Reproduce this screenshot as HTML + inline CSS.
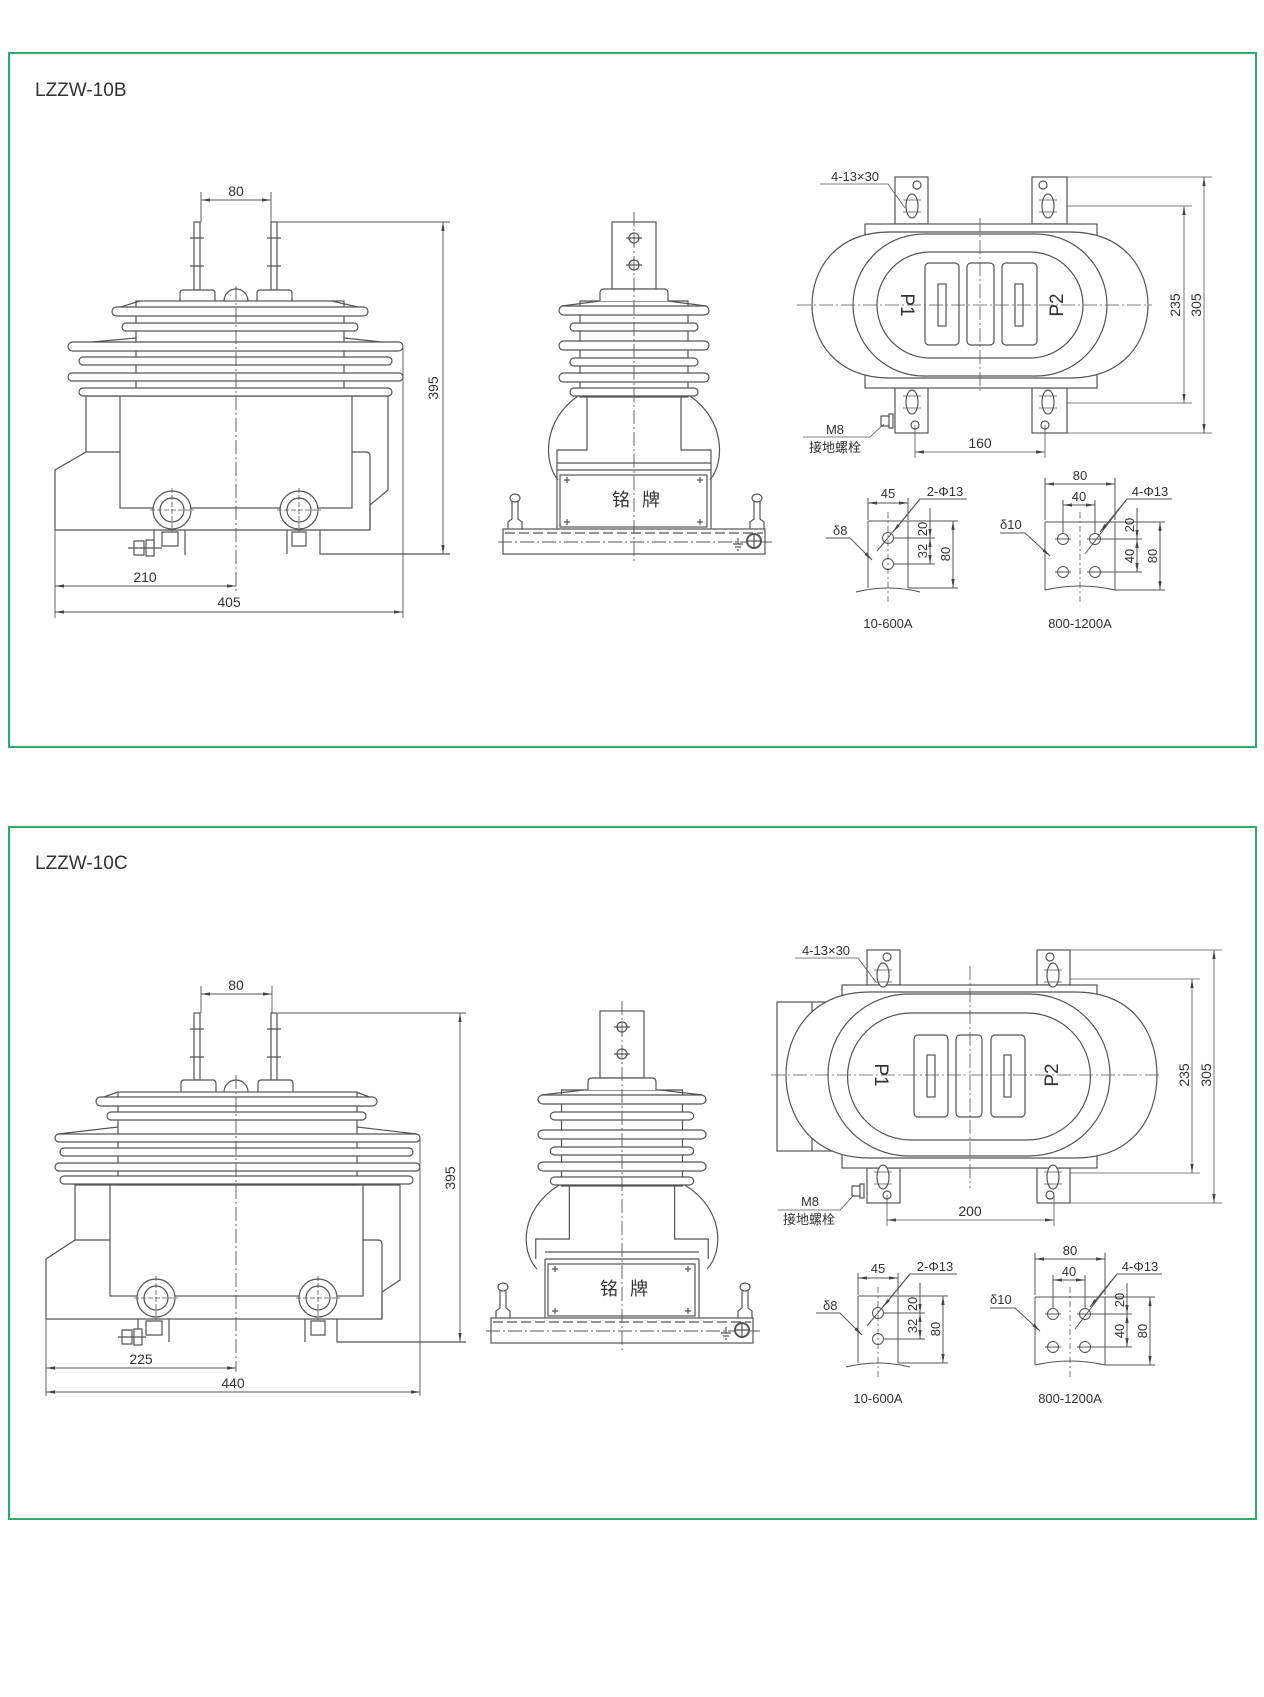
<!DOCTYPE html>
<html><head><meta charset="utf-8"><style>
html,body{margin:0;padding:0;background:#fff;}
svg{display:block}
text{font-family:"Liberation Sans","Noto Sans CJK SC",sans-serif;fill:#333}
</style></head><body>
<svg width="1264" height="1697" viewBox="0 0 1264 1697" xmlns="http://www.w3.org/2000/svg">
<defs>
<marker id="a" viewBox="0 0 10 10" refX="10" refY="5" markerUnits="userSpaceOnUse" markerWidth="9" markerHeight="9" orient="auto-start-reverse"><path d="M0,3.2 L10,5 L0,6.8z" fill="#444"/></marker>

<!-- side view top part (sheds+dome+column) -->
<g id="sideShed" stroke="#555" stroke-width="1.2" fill="#fff">
  <path d="M578 396 C543 420 543 462 558 480" fill="none" vector-effect="non-scaling-stroke"/>
  <path d="M690 396 C725 420 725 462 710 480" fill="none" vector-effect="non-scaling-stroke"/>
  <path d="M587 396 V450 H557 V470 M681 396 V450 H711 V470" fill="none" vector-effect="non-scaling-stroke"/>
  <rect x="580" y="301" width="108" height="96" vector-effect="non-scaling-stroke"/>
  <path d="M600 301 L562 306" fill="none" vector-effect="non-scaling-stroke"/>
  <path d="M668 301 L706 306" fill="none" vector-effect="non-scaling-stroke"/>
  <rect x="559" y="306" width="150" height="9" rx="4.5" vector-effect="non-scaling-stroke"/>
  <rect x="570" y="323" width="128" height="8" rx="4" vector-effect="non-scaling-stroke"/>
  <rect x="559" y="341" width="150" height="9" rx="4.5" vector-effect="non-scaling-stroke"/>
  <rect x="570" y="358" width="128" height="8" rx="4" vector-effect="non-scaling-stroke"/>
  <rect x="559" y="373" width="150" height="9" rx="4.5" vector-effect="non-scaling-stroke"/>
  <rect x="570" y="388" width="128" height="8" rx="4" vector-effect="non-scaling-stroke"/>
</g>
<g id="sideMast" stroke="#555" stroke-width="1.2" fill="#fff">
  <rect x="612" y="222" width="44" height="67"/>
  <path d="M600 301 V293 Q600 289 604 289 H664 Q668 289 668 293 V301"/>
  <circle cx="634" cy="238" r="5"/><circle cx="634" cy="265" r="5"/>
  <path d="M626 238 H642 M626 265 H642" fill="none"/>
</g>
<g id="sideBase" stroke="#555" stroke-width="1.2" fill="none">
  <path d="M557 463 H711 M557 470 H711 M557 470 V529 M711 470 V529"/>
  <rect x="560" y="475" width="147" height="52" fill="#fff"/>
  <path d="M564 480 h6 m-3 -3 v6 M697 480 h6 m-3 -3 v6 M564 522 h6 m-3 -3 v6 M697 522 h6 m-3 -3 v6"/>
  <rect x="503" y="529" width="262" height="25" fill="#fff"/>
  <path d="M505 533 H763" stroke-dasharray="10 4"/>
  <path d="M498 542 H772" stroke-dasharray="14 3 2 3" stroke-width="0.9"/>
  <path d="M508 529 V522 L512 519 V501 M522 529 V522 L518 519 V501"/>
  <ellipse cx="515" cy="498" rx="5" ry="4" fill="#fff"/>
  <path d="M750 529 V522 L754 519 V501 M764 529 V522 L760 519 V501"/>
  <ellipse cx="757" cy="498" rx="5" ry="4" fill="#fff"/>
  <circle cx="754" cy="541" r="7" fill="#fff" stroke-width="2"/>
  <path d="M748 541 H760 M754 535 V547"/>
  <path d="M733 544 H743 M735 547 H741 M737 550 H739 M738 538 V544"/>
  <path d="M634 212 V562" stroke-dasharray="14 3 2 3" stroke-width="0.9"/>
  <text x="621" y="506" font-size="18" stroke="none" text-anchor="middle">铭</text>
  <text x="651" y="506" font-size="18" stroke="none" text-anchor="middle">牌</text>
</g>

<!-- small views -->
<g id="small" stroke="#555" stroke-width="1" fill="none">
  <path d="M868 521 V588 M908 521 V588 M868 521 H908"/>
  <path d="M856 592 Q888 584 920 592" />
  <circle cx="888" cy="538" r="5.5"/><circle cx="888" cy="564" r="5.5"/>
  <path d="M888 512 V602" stroke-dasharray="6 3 2 3" stroke-width="0.8"/>
  <path d="M868 498 V520 M908 498 V520"/>
  <path d="M868 503 H908" marker-start="url(#a)" marker-end="url(#a)"/>
  <path d="M908 521 H958 M893 538 H935 M893 564 H935"/>
  <path d="M930 508 V538" marker-end="url(#a)"/><path d="M930 538 V564" marker-start="url(#a)" marker-end="url(#a)"/>
  <path d="M953 521 V588" marker-start="url(#a)" marker-end="url(#a)"/>
  <path d="M908 588 H958"/>
  <path d="M920 499 H967 M920 499 L877 551" /><path d="M920 499 L893 532" marker-end="url(#a)"/>
  <path d="M826 538 H850 L872 560" marker-end="url(#a)"/>
  <text x="888" y="498" font-size="13" stroke="none" text-anchor="middle">45</text>
  <text x="945" y="496" font-size="13" stroke="none" text-anchor="middle">2-Φ13</text>
  <text x="833" y="535" font-size="13" stroke="none">δ8</text>
  <text transform="translate(927,529) rotate(-90)" font-size="13" stroke="none" text-anchor="middle">20</text>
  <text transform="translate(927,551) rotate(-90)" font-size="13" stroke="none" text-anchor="middle">32</text>
  <text transform="translate(950,554) rotate(-90)" font-size="13" stroke="none" text-anchor="middle">80</text>
  <text x="888" y="628" font-size="13" stroke="none" text-anchor="middle">10-600A</text>

  <path d="M1045 522 V590 M1115 522 V590 M1045 522 H1115"/>
  <path d="M1045 590 Q1080 582 1115 590"/>
  <path d="M1080 512 V604" stroke-dasharray="6 3 2 3" stroke-width="0.8"/>
  <circle cx="1063" cy="539" r="5.5"/><circle cx="1095" cy="539" r="5.5"/>
  <circle cx="1063" cy="572" r="5.5"/><circle cx="1095" cy="572" r="5.5"/>
  <path d="M1055 539 H1071 M1087 539 H1103 M1055 572 H1071 M1087 572 H1103"/>
  <path d="M1045 478 V520 M1115 478 V520 M1063 500 V533 M1095 500 V533"/>
  <path d="M1045 484 H1115" marker-start="url(#a)" marker-end="url(#a)"/>
  <path d="M1063 505 H1095" marker-start="url(#a)" marker-end="url(#a)"/>
  <path d="M1115 522 H1165 M1100 539 H1142 M1100 572 H1142 M1115 590 H1165"/>
  <path d="M1137 508 V539" marker-end="url(#a)"/><path d="M1137 539 V572" marker-start="url(#a)" marker-end="url(#a)"/>
  <path d="M1160 522 V590" marker-start="url(#a)" marker-end="url(#a)"/>
  <path d="M1127 499 H1172 M1127 499 L1085 554"/><path d="M1127 499 L1100 532" marker-end="url(#a)"/>
  <path d="M1000 533 H1025 L1050 556" marker-end="url(#a)"/>
  <text x="1080" y="480" font-size="13" stroke="none" text-anchor="middle">80</text>
  <text x="1079" y="501" font-size="13" stroke="none" text-anchor="middle">40</text>
  <text x="1150" y="496" font-size="13" stroke="none" text-anchor="middle">4-Φ13</text>
  <text x="1000" y="529" font-size="13" stroke="none">δ10</text>
  <text transform="translate(1134,525) rotate(-90)" font-size="13" stroke="none" text-anchor="middle">20</text>
  <text transform="translate(1134,556) rotate(-90)" font-size="13" stroke="none" text-anchor="middle">40</text>
  <text transform="translate(1157,556) rotate(-90)" font-size="13" stroke="none" text-anchor="middle">80</text>
  <text x="1080" y="628" font-size="13" stroke="none" text-anchor="middle">800-1200A</text>
</g>
</defs>

<!-- panels -->
<rect x="9" y="53" width="1247" height="694" fill="none" stroke="#2eaa6a" stroke-width="2"/>
<rect x="9" y="827" width="1247" height="692" fill="none" stroke="#2eaa6a" stroke-width="2"/>
<text x="35" y="96" font-size="19">LZZW-10B</text>
<text x="35" y="869" font-size="19">LZZW-10C</text>

<!-- ============ PANEL 1 LEFT VIEW ============ -->
<g stroke="#555" stroke-width="1.2" fill="#fff">
  <rect x="194" y="222" width="6" height="68"/><rect x="271" y="222" width="6" height="68"/>
  <path d="M190 238 h14 M190 266 h14 M267 238 h14 M267 266 h14" fill="none"/>
  <path d="M180 301 V293 Q180 290 183 290 H212 Q215 290 215 293 V301 M257 301 V293 Q257 290 260 290 H289 Q292 290 292 293 V301"/>
  <path d="M224 301 A12 12 0 0 1 248 301"/>
  <path d="M86 396 V452 L55 470 V530 H370 V505 L388 490 V396 Z"/>
  <path d="M352 452 H366 Q370 452 370 456 V530" fill="none"/>
  <path d="M86 452 H120" fill="none"/>
  <rect x="120" y="396" width="232" height="112"/>
  <rect x="136" y="301" width="208" height="95"/>
  <path d="M140 301 L114 309 M332 301 L366 309" fill="none"/>
  <rect x="112" y="307" width="256" height="9" rx="4.5"/>
  <rect x="122" y="323" width="236" height="8" rx="4"/>
  <path d="M136 338 L70 344 M344 338 L401 344" fill="none"/>
  <rect x="68" y="342" width="335" height="9" rx="4.5"/>
  <rect x="79" y="357" width="313" height="8" rx="4"/>
  <rect x="68" y="373" width="335" height="8" rx="4"/>
  <rect x="79" y="388" width="313" height="8" rx="4"/>
  <circle cx="172" cy="510" r="19"/><circle cx="172" cy="510" r="12"/>
  <circle cx="299" cy="510" r="19"/><circle cx="299" cy="510" r="12"/>
  <path d="M150 510 H194 M172 488 V532 M277 510 H321 M299 488 V532" fill="none" stroke-dasharray="5 2" stroke-width="0.8"/>
  <path d="M154 530 V555 M185 530 V555 M162 532 h16 v14 h-16z M287 530 V554 M320 530 V554 H450 M292 532 h14 v14 h-14z" fill="none"/>
  <path d="M128 548 H162 M134 541 h10 v14 h-10z M146 540 h8 v16 h-8z" />
</g>
<g stroke="#555" stroke-width="0.9" fill="none">
  <path d="M236 286 V592" stroke-dasharray="14 3 2 3"/>
  <path d="M201 192 V222 M271 192 V222 M277 222 H450"/>
  <path d="M201 200 H271" marker-start="url(#a)" marker-end="url(#a)"/>
  <path d="M443 222 V554" marker-start="url(#a)" marker-end="url(#a)"/>
  <path d="M55 530 V618 M403 346 V618"/>
  <path d="M55 586 H236" marker-start="url(#a)" marker-end="url(#a)"/>
  <path d="M55 612 H403" marker-start="url(#a)" marker-end="url(#a)"/>
</g>
<text x="236" y="196" font-size="14" text-anchor="middle">80</text>
<text transform="translate(438,388) rotate(-90)" font-size="14" text-anchor="middle">395</text>
<text x="145" y="582" font-size="14" text-anchor="middle">210</text>
<text x="229" y="607" font-size="14" text-anchor="middle">405</text>

<!-- ============ PANEL 1 SIDE VIEW ============ -->
<use href="#sideShed"/><use href="#sideMast"/><use href="#sideBase"/>

<!-- ============ PANEL 1 TOP VIEW ============ -->
<g stroke="#555" stroke-width="1.2" fill="#fff">
  <rect x="895" y="177" width="33" height="47"/><rect x="1032" y="177" width="35" height="47"/>
  <rect x="895" y="388" width="33" height="45"/><rect x="1032" y="388" width="35" height="45"/>
  <rect x="865" y="224" width="232" height="164"/>
  <path d="M890 232 H1070 C1125 232 1148 270 1148 305 C1148 340 1125 378 1070 378 H890 C835 378 812 340 812 305 C812 270 835 232 890 232 Z"/>
  <path d="M924 234 H1036 A71 71 0 0 1 1036 376 H924 A71 71 0 0 1 924 234 Z"/>
  <path d="M930 252 H1030 A53 53 0 0 1 1030 358 H930 A53 53 0 0 1 930 252 Z"/>
  <rect x="925" y="263" width="34" height="82" rx="4"/>
  <rect x="967" y="263" width="27" height="82" rx="4"/>
  <rect x="1002" y="263" width="35" height="82" rx="4"/>
  <rect x="938" y="284" width="8" height="42"/><rect x="1015" y="284" width="8" height="42"/>
  <ellipse cx="912" cy="206" rx="6" ry="12"/><circle cx="917" cy="185" r="4"/>
  <ellipse cx="1048" cy="206" rx="6" ry="12"/><circle cx="1043" cy="185" r="4"/>
  <ellipse cx="912" cy="402" rx="6" ry="12"/><circle cx="915" cy="425" r="4"/>
  <ellipse cx="1048" cy="402" rx="6" ry="12"/><circle cx="1045" cy="425" r="4"/>
  <path d="M881 416 h8 v10 h-8z M889 414 h4 v14 h-4z" />
</g>
<g stroke="#555" stroke-width="0.8" fill="none">
  <path d="M903 200 h18 M903 212 h18 M1039 200 h18 M1039 212 h18 M903 396 h18 M903 408 h18 M1039 396 h18 M1039 408 h18"/>
  <path d="M797 305 H1152 M980 218 V392" stroke-dasharray="14 3 2 3"/>
  <path d="M1067 177 H1212 M1067 433 H1212 M1067 206 H1192 M1067 403 H1192"/>
  <path d="M1204 177 V433" marker-start="url(#a)" marker-end="url(#a)"/>
  <path d="M1184 206 V403" marker-start="url(#a)" marker-end="url(#a)"/>
  <path d="M915 425 V458 M1045 425 V458"/>
  <path d="M915 452 H1045" marker-start="url(#a)" marker-end="url(#a)"/>
  <path d="M820 184 H888 L905 208"/>
  <path d="M803 437 H870 L884 424"/>
</g>
<text transform="translate(906,305) rotate(90)" font-size="19" text-anchor="middle" dominant-baseline="middle">P1</text>
<text transform="translate(1058,305) rotate(-90)" font-size="19" text-anchor="middle" dominant-baseline="middle">P2</text>
<text transform="translate(1180,305) rotate(-90)" font-size="14" text-anchor="middle">235</text>
<text transform="translate(1201,305) rotate(-90)" font-size="14" text-anchor="middle">305</text>
<text x="855" y="181" font-size="13" text-anchor="middle">4-13×30</text>
<text x="835" y="434" font-size="13" text-anchor="middle">M8</text>
<text x="835" y="452" font-size="13" text-anchor="middle">接地螺栓</text>
<text x="980" y="448" font-size="14" text-anchor="middle">160</text>

<use href="#small"/>

<!-- ============ PANEL 2 LEFT VIEW ============ -->
<g stroke="#555" stroke-width="1.2" fill="#fff">
  <rect x="194" y="1013" width="6" height="67"/><rect x="271" y="1013" width="6" height="67"/>
  <path d="M190 1029 h14 M190 1057 h14 M267 1029 h14 M267 1057 h14" fill="none"/>
  <path d="M181 1092 V1084 Q181 1080 184 1080 H213 Q216 1080 216 1084 V1092 M258 1092 V1084 Q258 1080 261 1080 H290 Q293 1080 293 1084 V1092"/>
  <path d="M224 1092 A12 12 0 0 1 248 1092"/>
  <path d="M75 1185 V1240 L46 1259 V1319 H382 V1292 L400 1280 V1185 Z"/>
  <path d="M363 1240 H378 Q382 1240 382 1244 V1319" fill="none"/>
  <path d="M75 1240 H110" fill="none"/>
  <rect x="110" y="1185" width="253" height="111"/>
  <rect x="118" y="1092" width="239" height="93"/>
  <path d="M118 1092 L98 1099 M356 1092 L375 1099" fill="none"/>
  <rect x="96" y="1097" width="281" height="9" rx="4.5"/>
  <rect x="107" y="1112" width="259" height="8" rx="4"/>
  <path d="M118 1127 L58 1134 M357 1127 L417 1134" fill="none"/>
  <rect x="55" y="1134" width="365" height="8" rx="4"/>
  <rect x="60" y="1148" width="353" height="8" rx="4"/>
  <rect x="55" y="1163" width="365" height="8" rx="4"/>
  <rect x="60" y="1176" width="353" height="8" rx="4"/>
  <circle cx="156" cy="1298" r="19"/><circle cx="156" cy="1298" r="12"/>
  <circle cx="318" cy="1298" r="19"/><circle cx="318" cy="1298" r="12"/>
  <path d="M134 1298 H178 M156 1276 V1320 M296 1298 H340 M318 1276 V1320" fill="none" stroke-dasharray="5 2" stroke-width="0.8"/>
  <path d="M138 1319 V1342 M169 1319 V1342 M146 1321 h16 v14 h-16z M305 1319 V1342 M337 1319 V1342 H466 M311 1321 h14 v14 h-14z" fill="none"/>
  <path d="M118 1337 H146 M122 1330 h10 v14 h-10z M134 1329 h8 v16 h-8z"/>
</g>
<g stroke="#555" stroke-width="0.9" fill="none">
  <path d="M236 1075 V1372" stroke-dasharray="14 3 2 3"/>
  <path d="M201 986 V1013 M272 986 V1013 M278 1013 H466"/>
  <path d="M201 994 H272" marker-start="url(#a)" marker-end="url(#a)"/>
  <path d="M460 1013 V1342" marker-start="url(#a)" marker-end="url(#a)"/>
  <path d="M46 1319 V1396 M420 1138 V1396"/>
  <path d="M46 1368 H236" marker-start="url(#a)" marker-end="url(#a)"/>
  <path d="M46 1392 H420" marker-start="url(#a)" marker-end="url(#a)"/>
</g>
<text x="236" y="990" font-size="14" text-anchor="middle">80</text>
<text transform="translate(455,1178) rotate(-90)" font-size="14" text-anchor="middle">395</text>
<text x="141" y="1364" font-size="14" text-anchor="middle">225</text>
<text x="233" y="1388" font-size="14" text-anchor="middle">440</text>

<!-- ============ PANEL 2 SIDE VIEW ============ -->
<g transform="translate(-12,789)">
  <g transform="translate(634,0) scale(1.12,1) translate(-634,0)"><use href="#sideShed"/></g>
  <use href="#sideMast"/>
  <use href="#sideBase"/>
</g>

<!-- ============ PANEL 2 TOP VIEW ============ -->
<g stroke="#555" stroke-width="1.2" fill="#fff">
  <rect x="777" y="1002" width="70" height="149"/>
  <path d="M812 1002 V1151" fill="none"/>
  <rect x="867" y="950" width="33" height="35"/><rect x="1037" y="950" width="33" height="35"/>
  <rect x="867" y="1168" width="33" height="35"/><rect x="1037" y="1168" width="33" height="35"/>
  <rect x="842" y="985" width="255" height="183"/>
  <path d="M870 992 H1075 C1135 992 1157 1035 1157 1075 C1157 1115 1135 1158 1075 1158 H870 C810 1158 786 1115 786 1075 C786 1035 810 992 870 992 Z"/>
  <path d="M909 994 H1029 A81 81 0 0 1 1029 1156 H909 A81 81 0 0 1 909 994 Z"/>
  <path d="M911 1013 H1027 A63.5 63.5 0 0 1 1027 1140 H911 A63.5 63.5 0 0 1 911 1013 Z"/>
  <rect x="914" y="1035" width="34" height="82" rx="4"/>
  <rect x="956" y="1035" width="26" height="82" rx="4"/>
  <rect x="991" y="1035" width="34" height="82" rx="4"/>
  <rect x="927" y="1055" width="8" height="42"/><rect x="1004" y="1055" width="7" height="42"/>
  <ellipse cx="883" cy="975" rx="6" ry="12"/><circle cx="887" cy="957" r="4"/>
  <ellipse cx="1053" cy="975" rx="6" ry="12"/><circle cx="1050" cy="957" r="4"/>
  <ellipse cx="883" cy="1177" rx="6" ry="12"/><circle cx="887" cy="1195" r="4"/>
  <ellipse cx="1053" cy="1177" rx="6" ry="12"/><circle cx="1050" cy="1195" r="4"/>
  <path d="M852 1186 h8 v10 h-8z M860 1184 h4 v14 h-4z"/>
</g>
<g stroke="#555" stroke-width="0.8" fill="none">
  <path d="M874 970 h18 M874 982 h18 M1044 970 h18 M1044 982 h18 M874 1172 h18 M874 1184 h18 M1044 1172 h18 M1044 1184 h18"/>
  <path d="M771 1075 H1162 M970 966 V1188" stroke-dasharray="14 3 2 3"/>
  <path d="M1070 950 H1222 M1070 1203 H1222 M1070 979 H1200 M1070 1173 H1200"/>
  <path d="M1214 950 V1203" marker-start="url(#a)" marker-end="url(#a)"/>
  <path d="M1192 979 V1173" marker-start="url(#a)" marker-end="url(#a)"/>
  <path d="M887 1195 V1226 M1054 1195 V1226"/>
  <path d="M887 1220 H1054" marker-start="url(#a)" marker-end="url(#a)"/>
  <path d="M795 958 H858 L876 982"/>
  <path d="M778 1210 H840 L854 1195"/>
</g>
<text transform="translate(880,1075) rotate(90)" font-size="19" text-anchor="middle" dominant-baseline="middle">P1</text>
<text transform="translate(1053,1075) rotate(-90)" font-size="19" text-anchor="middle" dominant-baseline="middle">P2</text>
<text transform="translate(1189,1075) rotate(-90)" font-size="14" text-anchor="middle">235</text>
<text transform="translate(1211,1075) rotate(-90)" font-size="14" text-anchor="middle">305</text>
<text x="826" y="955" font-size="13" text-anchor="middle">4-13×30</text>
<text x="810" y="1206" font-size="13" text-anchor="middle">M8</text>
<text x="809" y="1224" font-size="13" text-anchor="middle">接地螺栓</text>
<text x="970" y="1216" font-size="14" text-anchor="middle">200</text>

<use href="#small" transform="translate(-10,775)"/>
</svg>
</body></html>
